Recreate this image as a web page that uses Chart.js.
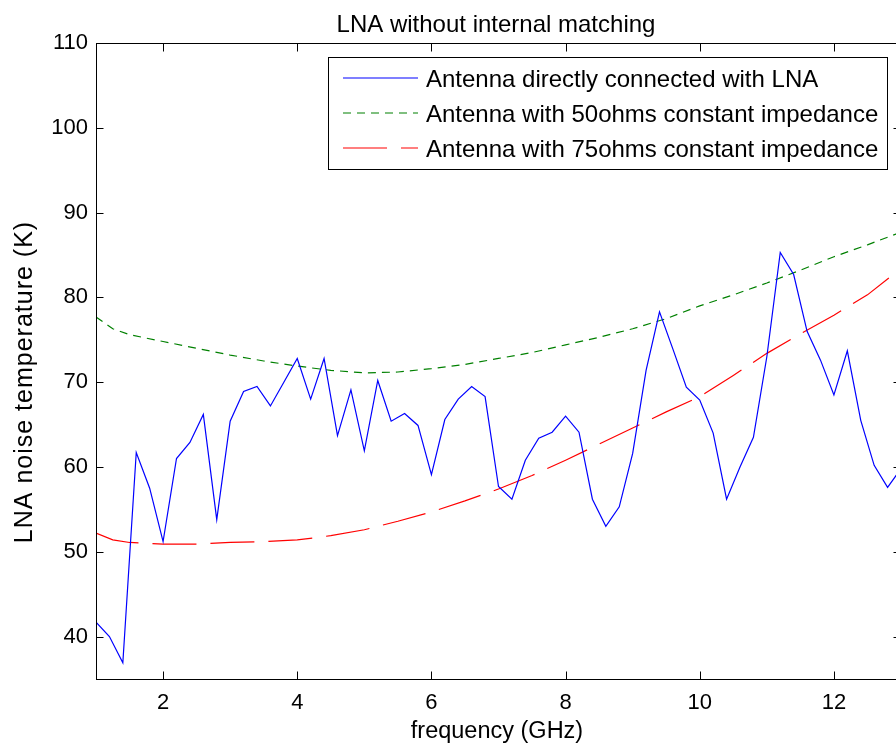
<!DOCTYPE html>
<html>
<head>
<meta charset="utf-8">
<title>LNA noise temperature</title>
<script src="https://cdn.jsdelivr.net/npm/chart.js@4.4.0/dist/chart.umd.min.js"></script>
<style>
  html, body { margin: 0; padding: 0; background: #fff; overflow: hidden; }
  #wrap { width: 902px; height: 748px; }
</style>
</head>
<body>
<div id="wrap"><canvas id="lna" width="902" height="748"></canvas></div>
<script>
// frequency grid of the measured curve (GHz)
const freqMeas = [1.0, 1.2, 1.4, 1.6, 1.8, 2.0, 2.2, 2.4, 2.6, 2.8,
                  3.0, 3.2, 3.4, 3.6, 3.8, 4.0, 4.2, 4.4, 4.6, 4.8,
                  5.0, 5.2, 5.4, 5.6, 5.8, 6.0, 6.2, 6.4, 6.6, 6.8,
                  7.0, 7.2, 7.4, 7.6, 7.8, 8.0, 8.2, 8.4, 8.6, 8.8,
                  9.0, 9.2, 9.4, 9.6, 9.8, 10.0, 10.2, 10.4, 10.6, 10.8,
                  11.0, 11.2, 11.4, 11.6, 11.8, 12.0, 12.2, 12.4, 12.6, 12.8, 13.0];
const directLNA = [41.7, 40.0, 36.9, 61.7, 57.5, 51.2, 61.0, 62.9, 66.2, 53.8,
                   65.4, 68.9, 69.5, 67.2, 70.0, 72.8, 68.0, 72.8, 63.7, 69.1,
                   61.9, 70.2, 65.4, 66.3, 64.9, 59.1, 65.6, 68.0, 69.5, 68.3,
                   57.7, 56.2, 60.8, 63.4, 64.1, 66.0, 64.1, 56.2, 53.0, 55.3,
                   61.6, 71.4, 78.3, 73.9, 69.4, 67.9, 64.0, 56.2, 60.0, 63.5,
                   73.0, 85.3, 82.7, 76.0, 72.6, 68.5, 73.7, 65.5, 60.2, 57.6, 59.8];

// grid of the two constant impedance curves (GHz)
const freqImp = [1.0, 1.25, 1.5, 2.0, 2.5, 3.0, 3.5, 4.0, 4.5, 5.0, 5.5, 6.0, 6.5,
                 7.0, 7.5, 8.0, 8.5, 9.0, 9.5, 10.0, 10.5, 11.0, 11.5, 12.0, 12.5, 13.0];
const imp50 = [77.7, 76.3, 75.6, 74.8, 74.0, 73.2, 72.5, 71.9, 71.4, 71.1, 71.2, 71.6, 72.1,
               72.8, 73.5, 74.4, 75.3, 76.3, 77.5, 79.0, 80.3, 81.7, 83.2, 84.8, 86.2, 87.7];
const imp75 = [52.2, 51.4, 51.1, 50.9, 50.9, 51.1, 51.2, 51.4, 51.9, 52.6, 53.6, 54.7, 56.0,
               57.4, 59.0, 60.8, 62.7, 64.6, 66.5, 68.3, 70.8, 73.4, 75.7, 77.9, 80.3, 83.4];

const xTicks = [2, 4, 6, 8, 10, 12];
const yTicks = [40, 50, 60, 70, 80, 90, 100, 110];
const seriesNames = [
  'Antenna directly connected with LNA',
  'Antenna with 50ohms constant impedance',
  'Antenna with 75ohms constant impedance'
];

const FONT = '"Liberation Sans", Arial, Helvetica, sans-serif';

function pts(xs, ys) {
  return xs.map((x, i) => ({ x: x, y: ys[i] }));
}

// box round the axes, inward ticks on all four sides, title, labels and legend
const frame = {
  id: 'frame',
  afterDatasetsDraw(chart) {
    const { ctx, chartArea: a, scales } = chart;
    const L = Math.round(a.left) + 0.5, R = Math.round(a.right) - 0.5;
    const T = Math.round(a.top) + 0.5, B = Math.round(a.bottom) + 0.5;
    ctx.save();
    ctx.strokeStyle = '#000';
    ctx.lineWidth = 1;
    ctx.setLineDash([]);
    ctx.strokeRect(L, T, R - L, B - T);
    ctx.beginPath();
    xTicks.forEach(v => {
      const px = Math.round(scales.x.getPixelForValue(v)) + 0.5;
      ctx.moveTo(px, B); ctx.lineTo(px, B - 8);
      ctx.moveTo(px, T); ctx.lineTo(px, T + 8);
    });
    yTicks.forEach(v => {
      const py = Math.round(scales.y.getPixelForValue(v)) + 0.5;
      ctx.moveTo(L, py); ctx.lineTo(L + 7, py);
      ctx.moveTo(R, py); ctx.lineTo(R - 7, py);
    });
    ctx.stroke();

    // title and axis labels
    ctx.fillStyle = '#000';
    ctx.textAlign = 'center';
    ctx.textBaseline = 'alphabetic';
    ctx.font = '24px ' + FONT;
    ctx.fillText('LNA without internal matching', 496, 32);
    ctx.font = '23.5px ' + FONT;
    ctx.fillText('frequency (GHz)', 497, 738);
    ctx.save();
    ctx.translate(32, 382);
    ctx.rotate(-Math.PI / 2);
    ctx.font = '25px ' + FONT;
    ctx.letterSpacing = '1px';
    ctx.fillText('LNA noise temperature (K)', 0, 0);
    ctx.restore();

    // legend
    const bx = 328.5, by = 57.5, bw = 559, bh = 112;
    ctx.fillStyle = '#fff';
    ctx.fillRect(bx, by, bw, bh);
    ctx.strokeStyle = '#000';
    ctx.lineWidth = 1;
    ctx.strokeRect(bx, by, bw, bh);
    ctx.font = '24px ' + FONT;
    ctx.textAlign = 'left';
    chart.data.datasets.forEach((ds, i) => {
      const y = 78 + i * 35;
      ctx.strokeStyle = ds.borderColor;
      ctx.lineWidth = ds.borderWidth;
      ctx.setLineDash(ds.borderDash || []);
      ctx.beginPath();
      ctx.moveTo(343, y);
      ctx.lineTo(418, y);
      ctx.stroke();
      ctx.setLineDash([]);
      ctx.fillStyle = '#000';
      ctx.fillText(ds.label, 426, y + 8.5);
    });
    ctx.restore();
  }
};

new Chart(document.getElementById('lna'), {
  type: 'line',
  data: {
    datasets: [
      {
        label: seriesNames[0],
        data: pts(freqMeas, directLNA),
        borderColor: '#0000ff',
        borderWidth: 1.2,
        pointRadius: 0,
        tension: 0,
        fill: false
      },
      {
        label: seriesNames[1],
        data: pts(freqImp, imp50),
        borderColor: '#008000',
        borderWidth: 1.2,
        borderDash: [8, 6],
        pointRadius: 0,
        tension: 0,
        fill: false
      },
      {
        label: seriesNames[2],
        data: pts(freqImp, imp75),
        borderColor: '#ff0000',
        borderWidth: 1.2,
        borderDash: [44, 14],
        pointRadius: 0,
        tension: 0,
        fill: false
      }
    ]
  },
  options: {
    responsive: false,
    animation: false,
    devicePixelRatio: 1,
    layout: { padding: { top: 43, right: 1, left: 0, bottom: 0 } },
    plugins: { legend: { display: false }, tooltip: { enabled: false } },
    scales: {
      x: {
        type: 'linear',
        min: 1,
        max: 13,
        grid: { display: false, drawTicks: false },
        border: { display: false },
        afterBuildTicks: s => { s.ticks = xTicks.map(v => ({ value: v })); },
        afterFit: s => { s.height = 69; },
        ticks: {
          color: '#000',
          font: { family: FONT, size: 22 },
          padding: 11,
          maxRotation: 0,
          autoSkip: false
        }
      },
      y: {
        type: 'linear',
        min: 35,
        max: 110,
        grid: { display: false, drawTicks: false },
        border: { display: false },
        afterBuildTicks: s => { s.ticks = yTicks.map(v => ({ value: v })); },
        afterFit: s => { s.width = 96; },
        ticks: {
          color: '#000',
          font: { family: FONT, size: 22 },
          padding: 8,
          autoSkip: false
        }
      }
    }
  },
  plugins: [frame]
});
</script>
</body>
</html>
